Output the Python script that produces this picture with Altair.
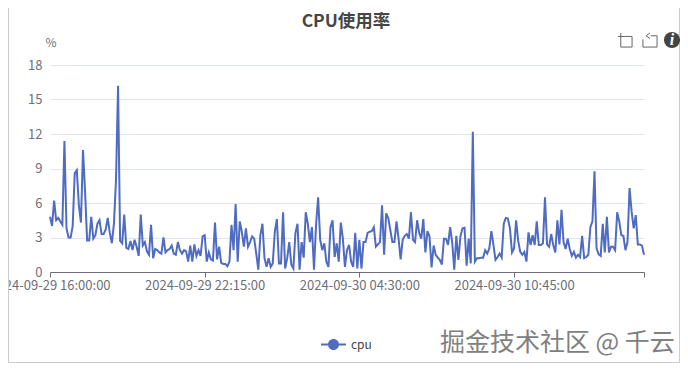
import altair as alt
import pandas as pd

FONT = "Noto Sans CJK SC"
LINE = "#4f6bc2"
GRAY = "#6E7079"

cpu = [
    4.8,4.0,6.2,4.5,4.7,4.4,4.1,11.4,3.8,3.0,
    3.0,4.0,8.6,8.85,5.8,4.3,10.6,7.0,2.75,2.75,
    4.8,2.9,3.2,4.2,4.5,3.3,3.3,3.7,4.7,3.4,
    2.5,4.2,8.0,16.2,2.7,2.5,5.0,2.1,2.0,2.7,
    1.9,2.8,2.2,1.4,5.0,2.3,2.6,1.8,1.5,4.1,
    1.2,2.0,1.9,1.7,1.6,3.0,1.7,1.9,2.0,2.3,
    1.6,1.5,2.6,1.9,1.6,1.9,1.8,0.9,2.3,0.9,
    2.4,1.4,1.9,1.4,3.1,3.2,0.9,1.7,1.1,1.0,
    4.3,1.1,2.2,0.8,0.7,0.7,0.5,0.9,4.1,1.9,
    5.9,0.9,4.4,3.5,2.2,3.8,2.2,2.6,3.1,2.9,
    1.6,0.2,3.2,4.2,1.2,0.45,1.2,0.45,0.75,3.5,
    4.6,0.75,0.75,5.2,0.3,1.2,2.6,0.65,0.3,3.4,
    4.2,0.2,2.6,1.25,5.2,4.2,2.6,3.9,0.2,4.1,
    6.5,2.8,1.9,2.5,0.9,0.45,3.9,4.5,1.3,2.5,
    0.9,4.3,2.9,0.45,1.9,2.35,0.9,0.45,3.4,0.3,
    2.8,0.3,2.6,2.6,3.4,3.5,3.55,3.9,2.2,2.4,
    2.6,5.8,1.5,5.1,4.7,3.65,2.6,2.6,4.4,2.9,
    1.1,2.8,3.15,3.3,2.9,5.2,2.8,2.6,4.5,3.4,
    2.9,4.6,1.7,3.55,3.1,0.4,2.3,1.5,1.25,1.05,
    0.65,2.9,2.9,2.35,3.9,2.6,0.2,3.15,1.05,3.1,
    3.8,3.85,0.55,2.9,0.75,12.2,0.9,1.2,1.2,1.25,
    1.25,1.9,1.6,2.05,3.55,2.35,1.05,1.3,1.6,1.25,
    4.2,4.7,4.65,3.8,1.7,2.05,4.5,2.7,1.75,1.5,
    1.75,0.9,3.45,2.35,3.2,2.35,4.4,2.35,2.35,2.5,
    6.5,2.4,2.2,3.3,2.35,1.7,4.5,2.4,5.4,2.6,
    2.0,2.9,2.0,1.4,1.75,1.25,1.5,1.3,3.15,1.2,
    1.3,1.5,3.9,4.4,8.75,2.05,1.55,1.4,4.2,1.7,
    4.8,1.7,2.2,2.2,1.9,5.2,4.4,3.2,3.15,1.9,
    2.6,7.3,5.25,3.8,4.95,2.4,2.4,2.3,1.5,
]
times = pd.date_range("2024-09-29 16:00:00", periods=len(cpu), freq="5min").strftime("%Y-%m-%d %H:%M:%S").tolist()
x_ticks = ["2024-09-29 16:00:00", "2024-09-29 22:15:00", "2024-09-30 04:30:00", "2024-09-30 10:45:00", "2024-09-30 16:00:00"]
y_ticks = [0, 3, 6, 9, 12, 15, 18]

df = pd.DataFrame({"time": times, "cpu": cpu, "series": "cpu"})
one = pd.DataFrame({"a": [0]})

legend_symbol = ("M-1,-0.08H1V0.08H-1Z "
                 "M-0.44,0A0.44,0.44 0 1,1 0.44,0A0.44,0.44 0 1,1 -0.44,0Z")

line = alt.Chart(df).mark_line(strokeWidth=2, interpolate="linear", clip=False).encode(
    x=alt.X("time:O", sort=None, scale=alt.Scale(type="point", padding=0),
            axis=alt.Axis(title=None, values=x_ticks, labelAngle=0, labelOverlap=False,
                          labelExpr="datum.value == '2024-09-30 16:00:00' ? '' : datum.value",
                          domainColor=GRAY, tickColor=GRAY, tickSize=5, labelColor=GRAY,
                          labelFontSize=13, labelFont=FONT, labelPadding=2, grid=False)),
    y=alt.Y("cpu:Q", scale=alt.Scale(domain=[0, 18]),
            axis=alt.Axis(title="%", titleAngle=0, titleX=-5, titleY=-16, titleAlign="left",
                          titleColor=GRAY, titleFontSize=12, titleFontWeight="normal", titleFont=FONT,
                          values=y_ticks, domain=False, ticks=False, labelColor=GRAY,
                          labelFontSize=13, labelFont=FONT, labelPadding=8,
                          grid=True, gridColor="#E0E6F1", gridWidth=1)),
    color=alt.Color("series:N", scale=alt.Scale(domain=["cpu"], range=[LINE]),
                    legend=alt.Legend(title=None, orient="none", legendX=271, legendY=267,
                                      symbolType=legend_symbol, symbolSize=625,
                                      symbolFillColor=LINE, symbolStrokeWidth=0,
                                      labelColor="#444", labelFontSize=12, labelFont=FONT,
                                      labelOffset=5)),
)

def note(txt, px, py, **kw):
    return alt.Chart(one).mark_text(text=txt, **kw).encode(x=alt.value(px - 50), y=alt.value(py - 65))

def rule(x1, y1, x2, y2):
    return alt.Chart(one).mark_rule(color="#cccccc", strokeWidth=1).encode(
        x=alt.value(x1 - 50), x2=alt.value(x2 - 50), y=alt.value(y1 - 65), y2=alt.value(y2 - 65))

def icon(path, px, py):
    return alt.Chart(one).mark_point(shape=path, size=200, filled=False, color="#666", strokeWidth=1, opacity=1).encode(
        x=alt.value(px - 50), y=alt.value(py - 65))

wm = dict(font=FONT, fontSize=25, align="left", baseline="middle")
layers = [
    rule(8.5, 0, 8.5, 362.5), rule(8, 362.5, 680, 362.5), rule(679.5, 0, 679.5, 363),
    line,
    note("CPU使用率", 346, 22, font=FONT, fontSize=17.5, fontWeight="bold", color="#464646",
         align="center", baseline="middle"),
    icon("M-0.6,-1V1H1V-0.5H-1", 625, 40),
    icon("M0.1,-0.6H1V1H-1V-0.1M0,-1L-0.55,-0.6L0,-0.2", 650, 40),
    alt.Chart(one).mark_point(shape="circle", size=260, filled=True, color="#444", opacity=1).encode(
        x=alt.value(672 - 50), y=alt.value(40 - 65)),
    note("i", 672, 40, font="Liberation Serif", fontSize=16, fontWeight="bold", fontStyle="italic",
         color="white", align="center", baseline="middle"),
    note("掘金技术社区 @ 千云", 441, 344, color="#ffffff", **wm),
    note("掘金技术社区 @ 千云", 440, 343, color="#808080", **wm),
]

chart = alt.layer(*layers).properties(
    width=594, height=207,
    autosize=alt.AutoSizeParams(type="none"),
    padding={"left": 42, "top": 57, "right": 36, "bottom": 92},
).configure_view(stroke=None)

chart.save("out.html", embed_options={"renderer": "svg", "actions": False})
